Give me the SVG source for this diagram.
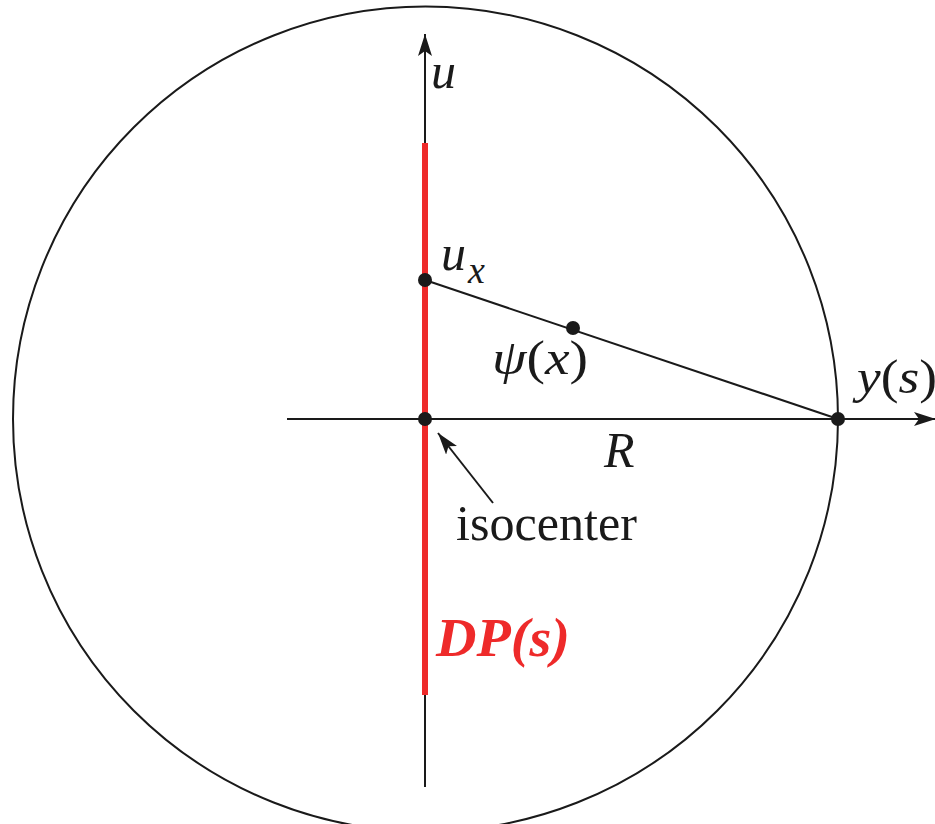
<svg xmlns="http://www.w3.org/2000/svg" width="935" height="824" viewBox="0 0 935 824">
<defs>
<style>
.ln{stroke:#1a1a1a;stroke-width:2;fill:none}
.red{stroke:#ee2a2a;stroke-width:6;fill:none}
.dot{fill:#1a1a1a}
.t{font-family:'Liberation Serif','DejaVu Serif',serif;fill:#1a1a1a}
.i{font-style:italic}
</style>
<marker id="ah" viewBox="0 0 22 14" refX="22" refY="7" markerWidth="22" markerHeight="14" markerUnits="userSpaceOnUse" orient="auto">
<path d="M0,0 L22,7 L0,14 L5,7 Z" fill="#1a1a1a"/>
</marker>
</defs>
<rect width="935" height="824" fill="#fff"/>
<g id="circle"><circle cx="425.5" cy="419" r="412.5" class="ln"/></g>
<g id="connectors">
<line x1="425" y1="787" x2="425" y2="34" class="ln" marker-end="url(#ah)"/>
<line x1="287" y1="419" x2="936" y2="419" class="ln" marker-end="url(#ah)"/>
<line x1="425" y1="143" x2="425" y2="695" class="red"/>
<line x1="425" y1="280" x2="838" y2="419" class="ln"/>
<line x1="493" y1="503" x2="438" y2="433" class="ln" marker-end="url(#ah)"/>
</g>
<g id="points">
<circle cx="425" cy="280" r="7" class="dot"/>
<circle cx="573" cy="328" r="7" class="dot"/>
<circle cx="425" cy="419" r="7" class="dot"/>
<circle cx="838" cy="419" r="7" class="dot"/>
</g>
<g id="labels">
<text x="431" y="88" class="t i" style="font-size:50px">u</text>
<text x="441" y="270" class="t i" style="font-size:50px">u</text>
<text x="468" y="283" class="t i" style="font-size:38px">x</text>
<text x="492" y="374" class="t" style="font-size:48px" textLength="96" lengthAdjust="spacingAndGlyphs"><tspan class="i">ψ</tspan>(<tspan class="i">x</tspan>)</text>
<text x="857" y="393" class="t" style="font-size:48px" textLength="80" lengthAdjust="spacingAndGlyphs"><tspan class="i">y</tspan>(<tspan class="i">s</tspan>)</text>
<text x="604" y="467" class="t i" style="font-size:50px">R</text>
<text x="456" y="540" class="t" style="font-size:50px" textLength="181" lengthAdjust="spacingAndGlyphs">isocenter</text>
<text x="436" y="656" class="t i" style="font-size:54px;fill:#ee2a2a" font-weight="bold" textLength="134" lengthAdjust="spacingAndGlyphs">DP(s)</text>
</g>
</svg>
